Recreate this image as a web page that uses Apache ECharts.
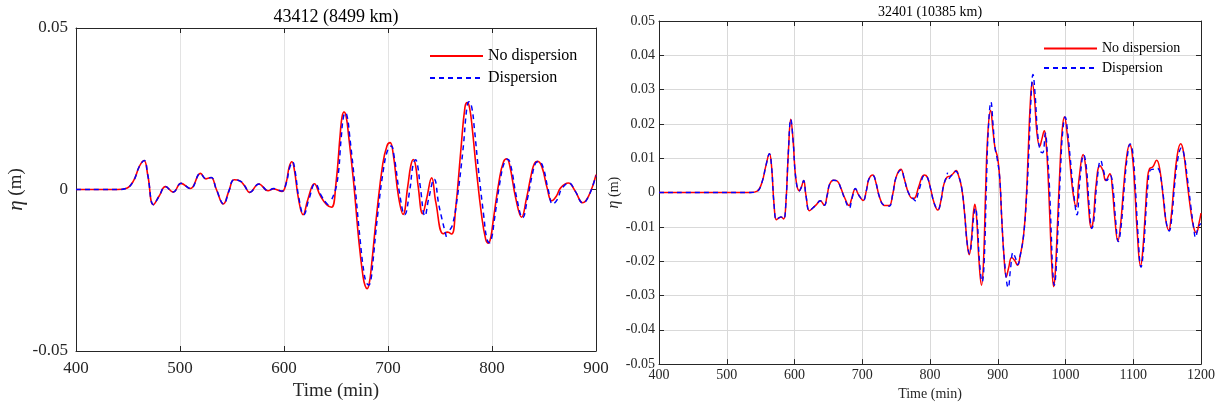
<!DOCTYPE html>
<html><head><meta charset="utf-8">
<script src="https://cdn.jsdelivr.net/npm/echarts@6/dist/echarts.min.js"></script>
<style>html,body{margin:0;padding:0;background:#fff}#c{width:1218px;height:406px}</style>
</head><body><div id="c"></div>
<script>
const leftTitle = '43412 (8499 km)';
const rightTitle = '32401 (10385 km)';
const seriesNames = ['No dispersion', 'Dispersion'];
const xLabelName = 'Time (min)';

// Left panel: station 43412 [time (min), eta (m)]
const leftNoDisp = [[400,0],[440,0],[448,0.0003],[455,0.0025],[461,0.0072],[465.4,0.009],[469,0.0045],[474.4,-0.0047],[480,-0.002],[486,0.0009],[493.5,-0.0008],[501,0.0019],[510,0.0003],[519.7,0.005],[525,0.0033],[529.8,0.0037],[535,0],[541.7,-0.0045],[547,-0.0005],[552,0.003],[557.8,0.0026],[562,0.0012],[567,-0.0009],[575.8,0.0017],[584.7,-0.0004],[589.6,0.0002],[598,-0.0006],[602,0.002],[605,0.007],[607.6,0.0086],[610,0.006],[614,-0.003],[618.4,-0.0078],[623,-0.003],[629.2,0.0018],[635,-0.002],[641,-0.0047],[645.7,-0.0055],[650,0.002],[654,0.017],[655.8,0.0225],[657.7,0.024],[659.8,0.0225],[662,0.017],[667,0.002],[672,-0.016],[676,-0.027],[678,-0.0298],[680,-0.0307],[682,-0.029],[684,-0.024],[689,-0.008],[695,0.008],[699,0.0135],[702,0.0145],[705,0.011],[710,-0.002],[714.5,-0.0077],[719,0.001],[722,0.0075],[724.4,0.0093],[726.5,0.0075],[729,0.001],[733.3,-0.0075],[737,-0.003],[742,0.0036],[746,-0.004],[753.2,-0.0137],[757.4,-0.0132],[761.2,-0.0138],[765,-0.006],[770,0.012],[774,0.0255],[776.3,0.0269],[778.5,0.0252],[781,0.019],[785,0.006],[790,-0.008],[794,-0.0155],[796.5,-0.0166],[799,-0.0145],[801,-0.01],[807,0.003],[811,0.0085],[814.1,0.0095],[817,0.0075],[823,-0.003],[828.5,-0.0086],[833,-0.003],[838,0.005],[841,0.0082],[844,0.0087],[848,0.007],[853,0.0005],[857.4,-0.0035],[862,-0.002],[866,0.0005],[873.4,0.002],[880,-0.0005],[887.2,-0.0041],[893,-0.002],[900,0.0046]];
const leftDisp = [[400,0],[440,0],[448,0.0003],[455,0.0025],[461,0.0072],[465.6,0.009],[469,0.0045],[474.6,-0.0047],[480,-0.002],[486,0.0009],[493.5,-0.0008],[501,0.0019],[510,0.0003],[519.7,0.005],[525,0.0033],[530,0.0037],[535,0],[542,-0.0045],[547,-0.0005],[552,0.003],[558,0.0026],[562,0.0012],[567,-0.0009],[576,0.0017],[585,-0.0004],[590,0.0003],[598,-0.0005],[602,0.0018],[605.5,0.0068],[608.3,0.0085],[610.5,0.006],[614.5,-0.003],[619,-0.0078],[624,-0.003],[630,0.0018],[636,-0.002],[641.5,-0.0045],[644.5,-0.005],[645.2,'-'],[646,-0.003],[651,0.002],[655,0.016],[657,0.0222],[659,0.0238],[661,0.0222],[663,0.017],[668,0.002],[673,-0.015],[677,-0.026],[679.5,-0.029],[681.5,-0.0296],[683.5,-0.028],[685,-0.024],[690,-0.008],[696,0.007],[700,0.0125],[703,0.0135],[706,0.01],[711,-0.001],[716,-0.0078],[721,0.0],[724,0.0075],[726.5,0.0092],[728.5,0.0074],[731,0.001],[735.6,-0.0082],[739,-0.003],[744.4,0.0032],[749,-0.005],[756.2,-0.0148],[758,'-'],[759.5,-0.0125],[762,-0.011],[766,-0.004],[772,0.012],[776,0.0258],[778,0.0272],[780.5,0.0255],[783,0.019],[787,0.006],[792,-0.008],[795,-0.0152],[797.5,-0.0165],[800,-0.0145],[802,-0.01],[808,0.003],[812,0.0085],[815,0.0094],[818,0.0075],[824,-0.003],[829.5,-0.0087],[834,-0.003],[839,0.005],[842,0.0082],[845,0.0087],[849,0.007],[854,0],[858.5,-0.0045],[863,-0.003],[867,0.0002],[874,0.002],[880,-0.0005],[887.5,-0.0042],[893,-0.002],[900,0.0043]];

// Right panel: station 32401 [time (min), eta (m)]
const rightNoDisp = [[400,0],[535,0],[545,0.0004],[552,0.003],[558,0.008],[563,0.0113],[566,0.008],[570,-0.004],[573.3,-0.0079],[577,-0.0074],[580,-0.0071],[584,-0.0077],[587,-0.004],[591,0.012],[594.5,0.0214],[598,0.015],[602,0.004],[607,0.0005],[610,0.0015],[613.5,0.0035],[617,-0.001],[622,-0.0053],[627,-0.0045],[632,-0.0036],[638,-0.0024],[644,-0.0037],[648,-0.001],[652,0.0025],[657.7,0.0036],[663.4,0.0033],[668,0.0015],[674,-0.0015],[680.6,-0.0038],[684,-0.002],[689.8,0.001],[695,-0.0008],[701.3,-0.0023],[706,0.0005],[710,0.004],[715.6,0.0051],[720,0.003],[725,-0.001],[731,-0.0036],[735,-0.0038],[739.7,-0.0038],[745,-0.0005],[750,0.0045],[757,0.0068],[762,0.004],[768,0],[774,-0.0017],[778,-0.0015],[783,0.0015],[791.4,0.0051],[796,0.0045],[801,0.001],[806,-0.003],[811.5,-0.0051],[816,-0.0025],[820,0.002],[824.7,0.0044],[829.8,0.0048],[834,0.0055],[838.6,0.0064],[842,0.005],[847,0.0011],[851,-0.006],[855,-0.015],[857.8,-0.0181],[861,-0.014],[864,-0.006],[866.2,-0.0034],[869,-0.008],[872,-0.019],[876,-0.027],[879,-0.02],[882,0],[885,0.016],[889.4,0.024],[893,0.018],[896,0.013],[899.8,0.0102],[903,0.004],[906,-0.008],[909,-0.018],[912.6,-0.0246],[916,-0.022],[920.5,-0.0189],[925,-0.0198],[929.3,-0.0212],[933,-0.0185],[938,-0.0127],[942,-0.002],[945,0.012],[948,0.026],[951,0.0321],[954,0.028],[958,0.017],[962,0.0135],[965,0.0155],[968.8,0.018],[971,0.0155],[974,0.006],[977,-0.008],[980,-0.022],[982.6,-0.0274],[985,-0.023],[988,-0.01],[992,0.008],[995,0.018],[998.4,0.0221],[1002,0.018],[1006,0.01],[1011,0],[1015.7,-0.0041],[1020,0.004],[1026,0.0111],[1030,0.007],[1034,-0.004],[1037.9,-0.0103],[1041,-0.008],[1045,0.002],[1050.7,0.0078],[1055,0.0065],[1059.5,0.0035],[1065.5,0.0055],[1069,0.0015],[1073,-0.008],[1077.3,-0.0141],[1081,-0.01],[1086,0.002],[1090,0.01],[1094.6,0.014],[1098,0.012],[1102,0.002],[1106,-0.012],[1110.8,-0.0214],[1114,-0.017],[1118,-0.005],[1121,0.004],[1124,0.0069],[1129,0.0075],[1134.5,0.0094],[1139,0.007],[1144,-0.001],[1148,-0.008],[1152.3,-0.011],[1156,-0.007],[1160,0.002],[1165,0.011],[1170,0.0142],[1174,0.012],[1179,0.004],[1184,-0.004],[1189,-0.01],[1193.2,-0.0117],[1197,-0.009],[1200,-0.006]];
const rightDisp = [[400,0],[535,0],[545,0.0004],[552,0.003],[558,0.008],[563,0.0113],[566,0.008],[570,-0.004],[573.3,-0.0079],[577,-0.0074],[580,-0.0071],[584,-0.0077],[587,-0.004],[591,0.012],[594.5,0.0214],[598,0.015],[602,0.004],[607,0.0005],[610,0.0015],[613.5,0.0035],[617,-0.001],[622,-0.0053],[627,-0.0045],[632,-0.0036],[638,-0.0024],[644,-0.0037],[648,-0.001],[652,0.0025],[657.7,0.0036],[663.4,0.0033],[668,0.0015],[674,-0.0018],[681,-0.0045],[684.5,-0.002],[690,0.0012],[695,-0.0008],[701.5,-0.0023],[706,0.0005],[710,0.004],[716,0.0049],[720,0.003],[725,-0.001],[731,-0.0035],[735,-0.0036],[740,-0.004],[745,-0.0005],[750,0.0045],[757.5,0.0066],[762,0.004],[768,0],[776,-0.002],[779,-0.0025],[780,'-'],[781,-0.0015],[785,0.0015],[792,0.005],[796,0.0045],[801,0.001],[806,-0.003],[812,-0.005],[816,-0.0025],[820,0.002],[824,0.0045],[826,0.0058],[827,'-'],[828,0.004],[832,0.005],[838,0.0062],[842,0.005],[847,0.0011],[851,-0.006],[855,-0.015],[858.5,-0.0178],[861.5,-0.014],[864.5,-0.007],[867,-0.0045],[870,-0.009],[873,-0.02],[877,-0.026],[880,-0.02],[883,0],[886,0.018],[890,0.0264],[893,0.02],[896,0.013],[899,0.01],[903,0.004],[906,-0.008],[910,-0.02],[915.5,-0.0277],[919,-0.022],[922.5,-0.0175],[926,-0.019],[929.5,-0.021],[933,-0.0185],[938,-0.0127],[942,-0.003],[946,0.012],[949,0.027],[952,0.0344],[955,0.029],[959,0.017],[963,0.012],[966.3,0.0116],[970.3,0.0173],[973,0.012],[976,0.003],[979,-0.012],[981,-0.022],[983.5,-0.027],[986,-0.023],[989,-0.01],[993,0.008],[996,0.018],[999.5,0.022],[1003,0.018],[1007,0.01],[1012,0],[1017,-0.0065],[1021,0.003],[1027,0.011],[1031,0.007],[1035,-0.004],[1039,-0.0105],[1042,-0.008],[1046,0.002],[1052,0.0094],[1056,0.0065],[1061,0.0035],[1066,0.005],[1070,0.0015],[1074,-0.008],[1078,-0.0143],[1082,-0.01],[1087,0.002],[1091,0.01],[1095.5,0.0142],[1099,0.012],[1103,0.002],[1107,-0.012],[1111.5,-0.0218],[1115,-0.017],[1119,-0.005],[1122,0.003],[1125,0.0065],[1130,0.0068],[1136,0.007],[1140,0.005],[1145,-0.002],[1149,-0.009],[1153,-0.0112],[1157,-0.007],[1161,0.002],[1166,0.01],[1171,0.013],[1175,0.011],[1180,0.004],[1185,-0.004],[1189,-0.01],[1192,-0.0131],[1196,-0.01],[1200,-0.009]];

const leftXTicks = {min: 400, max: 900, interval: 100};
const leftYTicks = {min: -0.05, max: 0.05, interval: 0.05};
const rightXTicks = {min: 400, max: 1200, interval: 100};
const rightYTicks = {min: -0.05, max: 0.05, interval: 0.01};

const FONT = 'Liberation Serif';
const INK = '#262626';
const fmtY = v => String(+v.toFixed(2));
const fmtX = v => String(Math.round(v));

function mkX(grid, ticks, fs, margin, nameGap, nfs, gridColor) {
  return [{
    type: 'value', gridIndex: grid, min: ticks.min, max: ticks.max, interval: ticks.interval,
    name: xLabelName, nameLocation: 'middle', nameGap: nameGap,
    nameTextStyle: {fontFamily: FONT, fontSize: nfs, color: INK},
    axisLine: {show: true, onZero: false, lineStyle: {color: INK, width: 1}},
    axisTick: {show: true, inside: true, length: 5, lineStyle: {color: INK}},
    axisLabel: {fontFamily: FONT, fontSize: fs, color: INK, margin: margin, formatter: fmtX},
    splitLine: {show: true, lineStyle: {color: gridColor, width: 1}}
  }, {
    type: 'value', gridIndex: grid, position: 'top', min: ticks.min, max: ticks.max, interval: ticks.interval,
    axisLine: {show: true, onZero: false, lineStyle: {color: INK, width: 1}},
    axisTick: {show: true, inside: true, length: 5, lineStyle: {color: INK}},
    axisLabel: {show: false}, splitLine: {show: false}
  }];
}
function mkY(grid, ticks, fs, margin, nameGap, gridColor, nfs) {
  return [{
    type: 'value', gridIndex: grid, min: ticks.min, max: ticks.max, interval: ticks.interval,
    name: '{i|η} (m)', nameLocation: 'middle', nameGap: nameGap, nameRotate: 90,
    nameTextStyle: {fontFamily: FONT, fontSize: nfs, color: INK,
      rich: {i: {fontFamily: FONT, fontStyle: 'italic', fontSize: nfs + 2, color: INK}}},
    axisLine: {show: true, onZero: false, lineStyle: {color: INK, width: 1}},
    axisTick: {show: true, inside: true, length: 5, lineStyle: {color: INK}},
    axisLabel: {fontFamily: FONT, fontSize: fs, color: INK, margin: margin, formatter: fmtY},
    splitLine: {show: true, lineStyle: {color: gridColor, width: 1}}
  }, {
    type: 'value', gridIndex: grid, position: 'right', min: ticks.min, max: ticks.max, interval: ticks.interval,
    axisLine: {show: true, onZero: false, lineStyle: {color: INK, width: 1}},
    axisTick: {show: true, inside: true, length: 5, lineStyle: {color: INK}},
    axisLabel: {show: false}, splitLine: {show: false}
  }];
}

const lineCommon = {type: 'line', symbol: 'none', smooth: 0.45, connectNulls: false, animation: false};
const red = '#ff0000', blue = '#0000ff';

const chart = echarts.init(document.getElementById('c'), null, {renderer: 'canvas'});
chart.setOption({
  backgroundColor: '#fff',
  animation: false,
  title: [
    {text: leftTitle, left: 336, top: 8, textAlign: 'center', padding: 0,
      textStyle: {fontFamily: FONT, fontSize: 18, lineHeight: 18, fontWeight: 'normal', color: '#000'}},
    {text: rightTitle, left: 930, top: 5, textAlign: 'center', padding: 0,
      textStyle: {fontFamily: FONT, fontSize: 14, lineHeight: 14, fontWeight: 'normal', color: '#000'}}
  ],
  legend: [
    {data: seriesNames, orient: 'vertical', left: 429, top: 48, padding: 0, itemWidth: 53, itemHeight: 14, itemGap: 6,
      itemStyle: {opacity: 0},
      textStyle: {fontFamily: FONT, fontSize: 16, lineHeight: 14, color: '#000'}, selectedMode: false},
    {data: seriesNames, orient: 'vertical', left: 1043, top: 41.5, padding: 0, itemWidth: 53, itemHeight: 12, itemGap: 5.5,
      itemStyle: {opacity: 0},
      textStyle: {fontFamily: FONT, fontSize: 14, lineHeight: 12, color: '#000'}, selectedMode: false}
  ],
  grid: [
    {left: 76, right: 1218 - 596, top: 28, bottom: 406 - 354, containLabel: false},
    {left: 659, right: 1218 - 1201, top: 21, bottom: 406 - 371, containLabel: false}
  ],
  xAxis: [...mkX(0, leftXTicks, 17, 9, 31, 19, '#e3e3e3'), ...mkX(1, rightXTicks, 14, 4, 18, 14, '#d9d9d9')],
  yAxis: [...mkY(0, leftYTicks, 17, 8, 49, '#e3e3e3', 19), ...mkY(1, rightYTicks, 14, 4, 32, '#d9d9d9', 14)],
  series: [
    {...lineCommon, name: seriesNames[0], xAxisIndex: 0, yAxisIndex: 0, data: leftNoDisp, lineStyle: {color: red, width: 1.6}, itemStyle: {color: red}, z: 2},
    {...lineCommon, name: seriesNames[1], xAxisIndex: 0, yAxisIndex: 0, data: leftDisp, lineStyle: {color: blue, width: 1.5, type: [5, 4]}, itemStyle: {color: blue}, z: 3},
    {...lineCommon, name: seriesNames[0], xAxisIndex: 2, yAxisIndex: 2, data: rightNoDisp, lineStyle: {color: red, width: 1.5}, itemStyle: {color: red}, z: 2},
    {...lineCommon, name: seriesNames[1], xAxisIndex: 2, yAxisIndex: 2, data: rightDisp, lineStyle: {color: blue, width: 1.4, type: [5, 4]}, itemStyle: {color: blue}, z: 3}
  ]
});
</script>
</body></html>
